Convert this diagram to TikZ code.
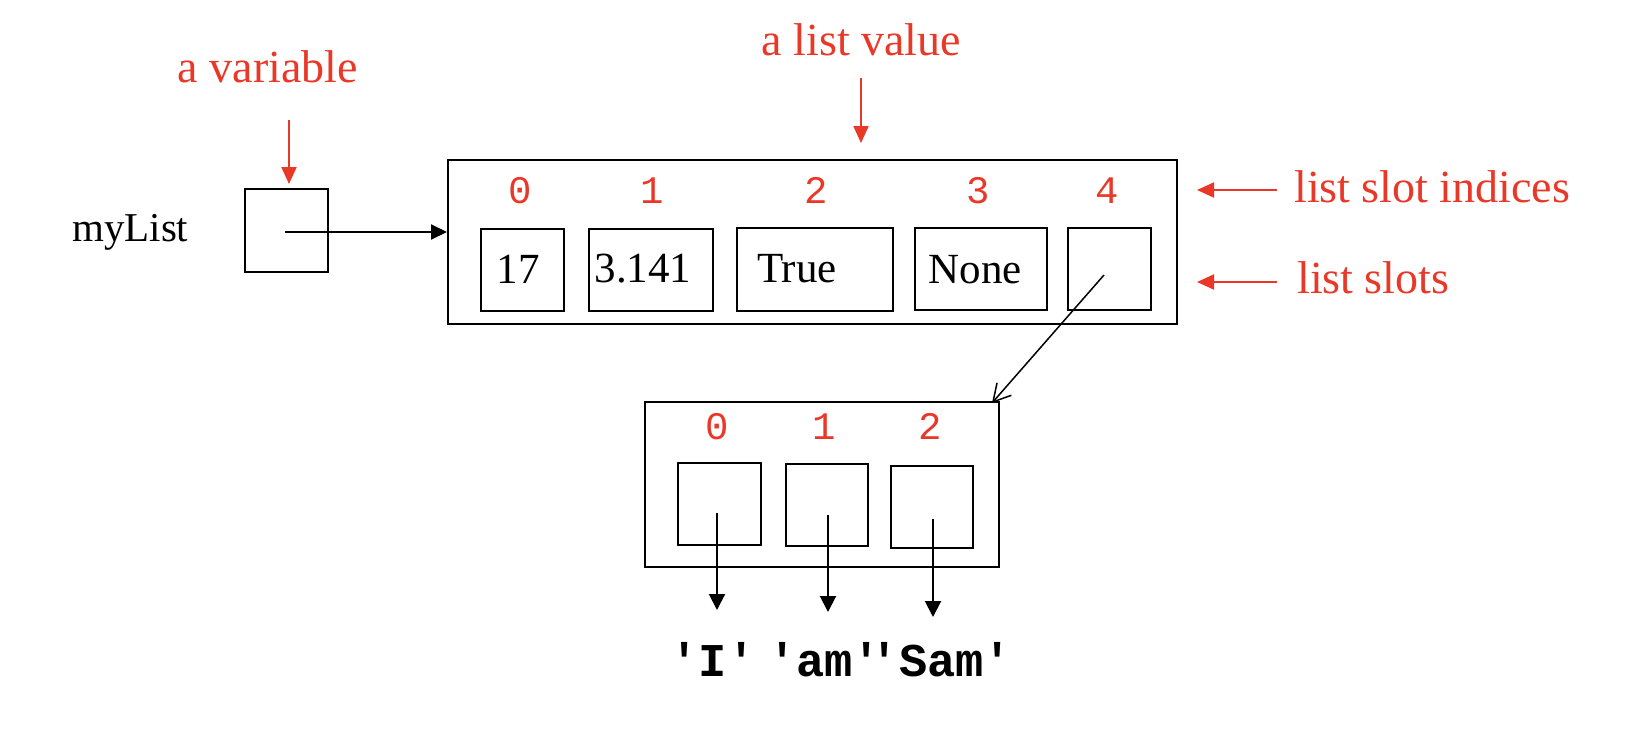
\documentclass[tikz,border=0pt]{standalone}
\usepackage{fontspec}
\setmainfont{Liberation Serif}
\newfontfamily\monof[Ligatures=TeXOff]{Liberation Mono}
\usetikzlibrary{arrows.meta}
\definecolor{lblred}{RGB}{234,56,40}
\begin{document}
\begin{tikzpicture}[x=1pt,y=-1pt,
  box/.style={draw,line width=2pt,inner sep=0pt,anchor=center},
  redlbl/.style={text=lblred,font=\fontsize{46}{50}\selectfont,inner sep=0pt},
  redarr/.style={draw=lblred,line width=2pt,-{Triangle[length=17pt,width=15pt]}},
  blkarr/.style={draw=black,line width=2pt,-{Triangle[length=16pt,width=16pt]}},
  idx/.style={anchor=base,text=lblred,font=\monof\fontsize{39}{42}\selectfont,inner sep=0pt},
  num/.style={anchor=base,font=\fontsize{43}{46}\selectfont,inner sep=0pt},
  strlbl/.style={anchor=base,font=\monof\bfseries\fontsize{47}{50}\selectfont,inner sep=0pt}
]
\useasboundingbox (0,0) rectangle (1626,744);

% boxes
\node[box,minimum width=83pt,minimum height=83pt] (var) at (286.5,230.5) {};
\node[box,minimum width=729pt,minimum height=163.5pt] (outer) at (812.5,241.75) {};
\node[box,minimum width=83pt,minimum height=82pt] (slot0) at (522.5,270) {};
\node[box,minimum width=124pt,minimum height=82pt] (slot1) at (651,270) {};
\node[box,minimum width=156pt,minimum height=83pt] (slot2) at (815,269.5) {};
\node[box,minimum width=132pt,minimum height=82pt] (slot3) at (981,269) {};
\node[box,minimum width=83pt,minimum height=82pt] (slot4) at (1109.5,269) {};
\node[box,minimum width=354pt,minimum height=165pt] (inner) at (822,484.5) {};
\node[box,minimum width=83pt,minimum height=82pt] (s0) at (719.5,504) {};
\node[box,minimum width=82pt,minimum height=82pt] (s1) at (827,505) {};
\node[box,minimum width=82pt,minimum height=82pt] (s2) at (932,507) {};

% labels
\node[redlbl,anchor=base] (lvar) at (268,82) {a variable};
\node[redlbl,anchor=base] (llist) at (861.5,55) {a list value};
\node[redlbl,anchor=base west] (lidx) at (1294,202) {list slot indices};
\node[redlbl,anchor=base west] (lslots) at (1297,293) {list slots};
\node[anchor=base west,font=\fontsize{41}{45}\selectfont,inner sep=0pt] (name) at (72,241) {myList};

% indices
\node[idx] (i0) at (520,203) {0};
\node[idx] (i1) at (652,203) {1};
\node[idx] (i2) at (816,203) {2};
\node[idx] (i3) at (978,203) {3};
\node[idx] (i4) at (1107,203) {4};
\node[idx] (j0) at (717,439) {0};
\node[idx] (j1) at (824,439) {1};
\node[idx] (j2) at (930,439) {2};

% slot values
\node[num] (t0) at (518,283) {17};
\node[num] (t1) at (643,282) {3.141};
\node[num] (t2) at (797,282) {True};
\node[num] (t3) at (975.5,283) {None};

% strings
\node[strlbl] (sI) at (713,676) {'I'};
\node[strlbl] (sam) at (824.5,676) {'am'};
\node[strlbl] (sSam) at (941.5,676) {'Sam'};

% red arrows
\coordinate (va) at (289,120);
\draw[redarr,shorten >=4pt] (va) -- (va |- var.north);
\coordinate (la) at (861,78);
\draw[redarr,shorten >=16pt] (la) -- (la |- outer.north);
\coordinate (ia) at (1277,190);
\draw[redarr,shorten >=19pt] (ia) -- (ia -| outer.east);
\coordinate (sa) at (1277,282);
\draw[redarr,shorten >=19pt] (sa) -- (sa -| outer.east);

% reference arrows
\coordinate (vs) at ([xshift=-1.5pt,yshift=-1.5pt]var.center);
\draw[draw=black,line width=2pt,-{Triangle[length=16pt,width=15pt]}] (vs) -- (vs -| outer.west);
\coordinate (p4) at ([xshift=-5.5pt,yshift=-6pt]slot4.center);
\draw[line width=1.5pt,-{Straight Barb[length=17pt,width=19pt]}] (p4) -- ([xshift=-8pt,yshift=-2pt]inner.north east);

\draw[blkarr] ([xshift=-2.5pt,yshift=-9pt]s0.center) -- ++(0,97);
\draw[blkarr] ([xshift=1pt,yshift=-10pt]s1.center) -- ++(0,97);
\draw[blkarr] ([xshift=1pt,yshift=-12pt]s2.center) -- ++(0,98);
\end{tikzpicture}
\end{document}
